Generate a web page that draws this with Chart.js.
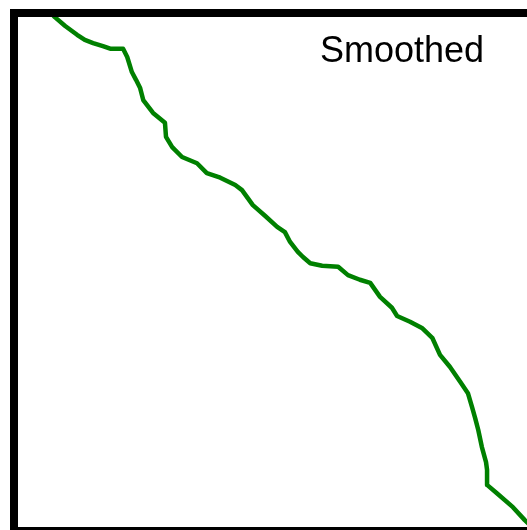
<!DOCTYPE html>
<html>
<head>
<meta charset="utf-8">
<script src="https://cdn.jsdelivr.net/npm/chart.js@4"></script>
<style>
  html, body { margin: 0; padding: 0; background: #fff; overflow: hidden; }
  #smooth { display: block; }
</style>
</head>
<body>
<canvas id="smooth" width="545" height="545"></canvas>
<script>
"use strict";

/* data (0..100 on both axes) */
var xValues = [7.0, 7.9, 9.9, 12.2, 13.7, 15.3, 17.2, 18.6, 21.1, 21.9, 22.8, 23.6, 24.4, 25.0,
    26.9, 29.2, 29.4, 30.6, 32.5, 35.4, 37.3, 39.9, 42.8, 44.1, 46.2, 48.6, 50.9, 52.4, 53.4,
    54.9, 55.9, 57.3, 59.6, 62.7, 64.6, 66.9, 68.9, 70.8, 73.1, 74.1, 76.6, 78.9, 80.9, 82.4,
    84.3, 86.3, 87.8, 88.6, 89.2, 89.8, 90.5, 91.3, 91.5, 91.5, 93.4, 96.5, 98.8, 100.8];
var yValues = [100.2, 99.2, 97.5, 95.8, 94.8, 94.2, 93.6, 93.1, 93.1, 91.5, 88.6, 87.1, 85.5, 83.2,
    80.7, 78.8, 76.1, 74.1, 72.2, 71.0, 69.1, 68.2, 66.8, 65.8, 62.9, 60.8, 58.7, 57.7, 55.8,
    53.9, 52.9, 51.7, 51.2, 51.0, 49.4, 48.5, 47.9, 45.2, 43.1, 41.5, 40.4, 39.2, 37.3, 34.0,
    31.7, 28.8, 26.6, 23.9, 21.8, 19.5, 16.2, 13.3, 11.8, 8.9, 7.3, 4.6, 2.1, 0.2];
var titleText = "Smoothed";

var points = xValues.map(function (x, i) {
    return { x: x, y: yValues[i] };
});

/* thick black frame round the plot area, drawn over the line */
var frame = {
    id: "frame",
    afterDatasetsDraw: function (chart) {
        var a = chart.chartArea;
        var ctx = chart.ctx;
        ctx.save();
        ctx.strokeStyle = "#000";
        ctx.lineWidth = 8;
        ctx.strokeRect(a.left, a.top, a.right - a.left, a.bottom - a.top);
        ctx.fillStyle = "#000";
        ctx.font = "36px 'Liberation Sans', Arial, sans-serif";
        ctx.textAlign = "left";
        ctx.textBaseline = "alphabetic";
        ctx.fillText(titleText, 320, 62);
        ctx.restore();
    },
};

var myChart = new Chart(document.getElementById("smooth"), {
    type: "line",
    data: {
        datasets: [
            {
                data: points,
                borderColor: "#008000",
                borderWidth: 4.5,
                borderJoinStyle: "round",
                borderCapStyle: "round",
                pointRadius: 0,
                tension: 0,
                fill: false,
            },
        ],
    },
    options: {
        responsive: false,
        animation: false,
        layout: {
            padding: { left: 14, top: 13, right: 14, bottom: 14 },
        },
        scales: {
            x: { type: "linear", min: 0, max: 100, display: false },
            y: { type: "linear", min: 0, max: 100, display: false },
        },
        plugins: {
            legend: { display: false },
            tooltip: { enabled: false },
        },
    },
    plugins: [frame],
});
</script>
</body>
</html>
